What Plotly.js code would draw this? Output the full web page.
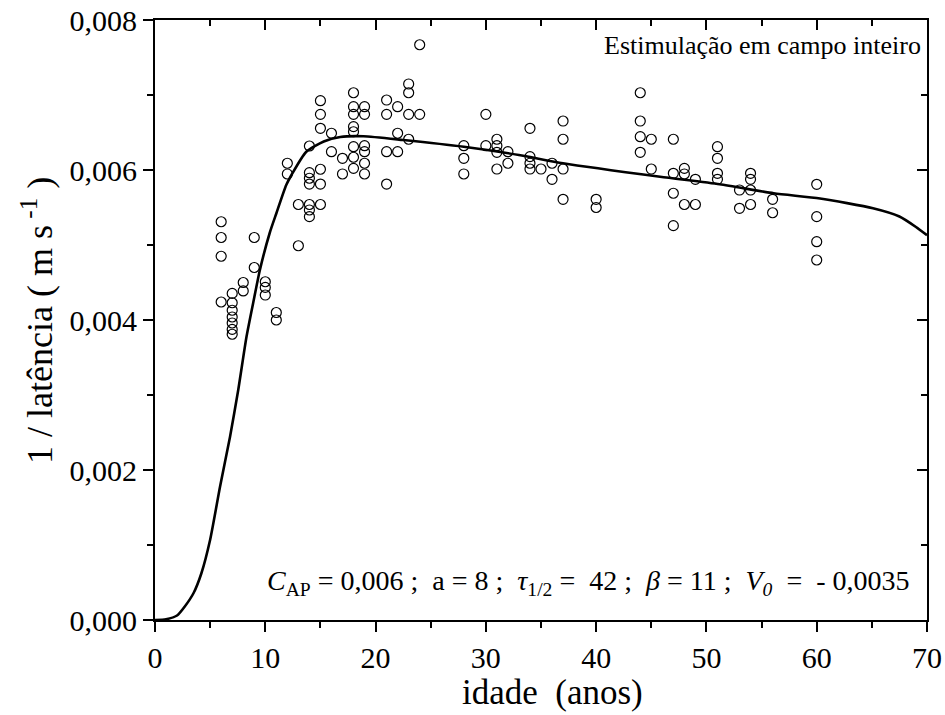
<!DOCTYPE html>
<html>
<head>
<meta charset="utf-8">
<script src="https://cdn.plot.ly/plotly-3.0.1.min.js"></script>
</head>
<body style="margin:0;background:#fff">
<div id="chart" style="width:945px;height:715px"></div>
<script>
// Observed ages (years) and the measured 1/latency values at each age
const ages = [6,7,8,9,10,11,12,13,14,15,16,17,18,19,21,22,23,24,28,30,31,32,34,35,36,37,40,44,45,47,48,49,51,53,54,56,60];
const valuesByAge = [
  [0.00531,0.00510,0.00485,0.00424],
  [0.004355,0.00423,0.00413,0.00404,0.00396,0.003875,0.00381],
  [0.00450,0.004387],
  [0.00510,0.00470],
  [0.00451,0.004435,0.004333],
  [0.00410,0.00400],
  [0.00609,0.005947],
  [0.00554,0.00499],
  [0.00632,0.005964,0.00589,0.005813,0.00554,0.005467,0.005378],
  [0.006924,0.006742,0.006556,0.00601,0.005813,0.00554],
  [0.00649,0.006244],
  [0.006156,0.005947],
  [0.00703,0.006844,0.006742,0.006578,0.00651,0.006311,0.00617,0.006022],
  [0.006844,0.006742,0.006324,0.006244,0.00609,0.005947],
  [0.006933,0.006742,0.006244,0.005813],
  [0.006844,0.00649,0.006244],
  [0.007147,0.00703,0.006742,0.00641],
  [0.00767,0.006742],
  [0.006324,0.006156,0.005947],
  [0.006742,0.006324],
  [0.00641,0.006324,0.006236,0.006013],
  [0.006244,0.00609],
  [0.006556,0.006178,0.00609,0.006013],
  [0.006013],
  [0.00609,0.005876],
  [0.006653,0.00641,0.006013,0.005609],
  [0.005609,0.00550],
  [0.00703,0.006653,0.006444,0.006236],
  [0.00641,0.006013],
  [0.00641,0.005956,0.00569,0.005258],
  [0.006022,0.005947,0.00554],
  [0.005876,0.00554],
  [0.006311,0.006156,0.005956,0.005876],
  [0.005733,0.005489],
  [0.005956,0.005876,0.005733,0.00554],
  [0.005609,0.00543],
  [0.005809,0.005378,0.005044,0.00480]
];
// Fitted curve
const curveAge = [0,1,2,2.7,3.5,4.2,5,5.9,6.8,7.55,8.3,9,9.5,10.4,11,11.9,12.4,13.7,15.3,16.8,18.9,22.5,28,33,37,45.8,51.2,56.1,60.3,65.1,67.5,69,70];
const curveVal = [0,0.00001,0.00006,0.00018,0.00036,0.00062,0.00107,0.00178,0.00244,0.00307,0.00378,0.00430,0.00466,0.00516,0.00542,0.00580,0.00594,0.00624,0.00638,0.00644,0.00645,0.00640,0.00631,0.00620,0.00609,0.00591,0.00581,0.00569,0.00562,0.00549,0.00538,0.00524,0.00513];

const xTickVals = [0,10,20,30,40,50,60,70];
const yTickVals = [0,0.002,0.004,0.006,0.008];

const px = [], py = [];
ages.forEach((a, i) => valuesByAge[i].forEach(v => { px.push(a); py.push(v); }));

const SERIF = 'Liberation Serif';

const traces = [
  {x: px, y: py, type: 'scatter', mode: 'markers', xaxis: 'x', yaxis: 'y',
   marker: {symbol: 'circle-open', size: 10, color: '#000', line: {width: 1.2, color: '#000'}},
   hoverinfo: 'x+y', showlegend: false},
  {x: curveAge, y: curveVal, type: 'scatter', mode: 'lines', xaxis: 'x', yaxis: 'y',
   line: {color: '#000', width: 2.6, shape: 'spline', smoothing: 0.6}, showlegend: false},
  {x: [0], y: [0], type: 'scatter', mode: 'markers', xaxis: 'x2', yaxis: 'y2',
   marker: {opacity: 0}, hoverinfo: 'skip', showlegend: false}
];

const common = {showgrid: false, zeroline: false, linecolor: '#000', linewidth: 2, tickcolor: '#000', tickwidth: 2};

const layout = {
  width: 945, height: 715,
  margin: {l: 155, r: 18, t: 20, b: 95},
  paper_bgcolor: '#fff', plot_bgcolor: '#fff',
  separators: ',.',
  font: {family: SERIF, color: '#000'},
  xaxis: Object.assign({}, common, {
    range: [0, 70], tickvals: xTickVals, ticks: 'outside', ticklen: 10,
    tickfont: {family: SERIF, size: 30, color: '#000'}, showline: true,
    minor: {dtick: 5, tick0: 0, ticks: 'outside', ticklen: 6, tickwidth: 2, tickcolor: '#000', showgrid: false}
  }),
  yaxis: Object.assign({}, common, {
    range: [0, 0.008], tickvals: yTickVals, tickformat: '.3f', ticks: 'outside', ticklen: 10,
    tickfont: {family: SERIF, size: 30, color: '#000'}, showline: true,
    minor: {dtick: 0.001, tick0: 0, ticks: 'outside', ticklen: 6, tickwidth: 2, tickcolor: '#000', showgrid: false}
  }),
  xaxis2: Object.assign({}, common, {
    overlaying: 'x', side: 'top', range: [0, 70], tickvals: xTickVals, ticks: 'inside', ticklen: 10,
    showticklabels: false, showline: true,
    minor: {dtick: 5, tick0: 0, ticks: 'inside', ticklen: 6, tickwidth: 2, tickcolor: '#000', showgrid: false}
  }),
  yaxis2: Object.assign({}, common, {
    overlaying: 'y', side: 'right', range: [0, 0.008], tickvals: yTickVals, ticks: 'inside', ticklen: 10,
    showticklabels: false, showline: true,
    minor: {dtick: 0.001, tick0: 0, ticks: 'inside', ticklen: 6, tickwidth: 2, tickcolor: '#000', showgrid: false}
  }),
  annotations: [
    {text: 'idade\u00a0 (anos)', xref: 'paper', yref: 'paper', x: 0.515, y: -0.121,
     xanchor: 'center', yanchor: 'middle', showarrow: false, font: {family: SERIF, size: 35, color: '#000'}},
    {text: '1 / latência ( m s<sup> -1</sup> )', xref: 'paper', yref: 'paper', x: -0.153, y: 0.5,
     xanchor: 'center', yanchor: 'middle', textangle: -90, showarrow: false, font: {family: SERIF, size: 36, color: '#000'}},
    {text: 'Estimulação em campo inteiro', xref: 'paper', yref: 'paper', x: 0.995, y: 0.958,
     xanchor: 'right', yanchor: 'middle', showarrow: false, font: {family: SERIF, size: 26, color: '#000'}},
    {text: '<i>C</i><sub>AP</sub> = 0,006 ;\u00a0 a = 8 ;\u00a0 <i>τ</i><sub>1/2</sub> =\u00a0 42 ;\u00a0 <i>β</i> = 11 ;\u00a0 <i>V</i><sub><i>0</i></sub> \u00a0=\u00a0 - 0,0035',
     xref: 'paper', yref: 'paper', x: 0.981, y: 0.062,
     xanchor: 'right', yanchor: 'middle', showarrow: false, font: {family: SERIF, size: 28, color: '#000'}}
  ]
};

Plotly.newPlot('chart', traces, layout, {displayModeBar: false}).then(gd => {
  gd.querySelectorAll('svg text').forEach(t => {
    t.setAttribute('font-family', SERIF);
    t.style.setProperty('font-family', "'Liberation Serif'", 'important');
  });
});
</script>
</body>
</html>
